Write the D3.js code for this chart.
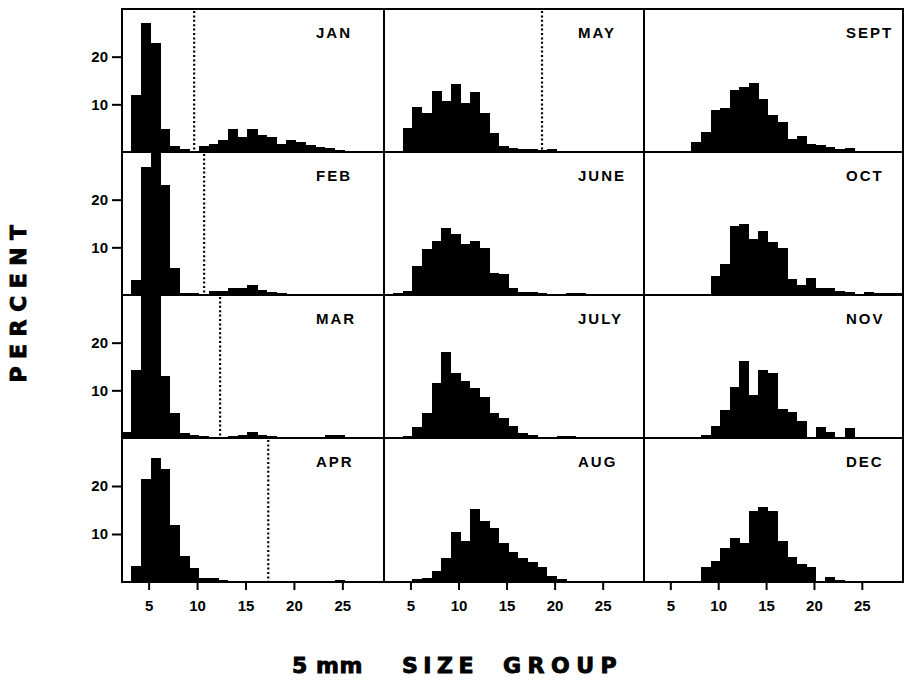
<!DOCTYPE html>
<html><head><meta charset="utf-8">
<script src="https://cdn.jsdelivr.net/npm/d3@7"></script>
<style>body{margin:0;background:#fff} svg{display:block}</style>
</head><body><svg id="c" width="904" height="681"></svg>
<script>
// ---- data ----
const months = ["JAN","FEB","MAR","APR","MAY","JUNE","JULY","AUG","SEPT","OCT","NOV","DEC"];
const binStarts = [3, 3, 2, 3, 4, 3, 4, 5, 6, 9, 8, 8];
const janPct = [12, 27.1, 22.9, 4.75, 1.3, 0.6, 0.3, 1.2, 1.6, 2.6, 4.75, 3.2, 4.75, 3.6, 3.1, 1.7, 2.5, 2.0, 1.4, 1.1, 0.8, 0.4, 0.2];
const febPct = [3.1, 26.9, 32, 23, 5.6, 0.5, 0.4, 0.3, 0.8, 0.9, 1.5, 1.5, 2.2, 1.0, 0.6, 0.4, 0.2];
const marPct = [1.3, 14.3, 33, 33, 13, 5.2, 1.1, 0.6, 0.4, 0.3, 0.3, 0.5, 0.6, 1.2, 0.6, 0.4, 0.3, 0.3, 0.3, 0.3, 0.3, 0.6, 0.6, 0.3];
const aprPct = [3.4, 21.5, 25.9, 23.6, 11.8, 5.5, 3.0, 0.9, 0.8, 0.4, 0.3, 0.3, 0.2, 0.2, 0.2, 0.2, 0.2, 0.2, 0.2, 0.2, 0.3, 0.4, 0.2];
const mayPct = [5.1, 9.5, 8.2, 12.8, 10.7, 14.2, 10.2, 12.6, 8.1, 3.9, 1.3, 0.9, 0.7, 0.6, 0.5, 0.6, 0.3, 0.3, 0.3, 0.3, 0.3, 0.3, 0.3];
const junPct = [0.5, 0.9, 6.1, 9.6, 11.4, 14.1, 12.7, 10.7, 11.4, 9.8, 4.7, 4.5, 1.5, 0.7, 0.6, 0.4, 0.3, 0.1, 0.4, 0.4];
const julPct = [0.4, 2.4, 5.2, 11.6, 18.1, 13.6, 11.9, 10.5, 8.5, 5.2, 4.3, 2.5, 1.0, 0.7, 0.3, 0.1, 0.5, 0.4];
const augPct = [0.6, 0.9, 2.2, 5.0, 10.5, 8.5, 15.2, 12.8, 11.3, 8.1, 6.3, 5.1, 4.2, 3.1, 1.3, 0.6, 0.3, 0.1, 0.1, 0.1, 0.1, 0.1, 0.1];
const sepPct = [0.3, 2.2, 4.3, 8.8, 9.3, 13.1, 13.6, 14.5, 11.1, 7.8, 6.2, 2.7, 3.4, 1.6, 1.5, 1.1, 0.7, 0.9, 0.3];
const octPct = [4.0, 6.6, 14.5, 14.8, 11.7, 13.4, 11.2, 9.8, 3.3, 2.2, 3.5, 1.4, 1.4, 0.9, 0.7, 0.3, 0.7, 0.4, 0.4, 0.4];
const novPct = [0.6, 2.5, 5.9, 10.6, 16.1, 9.0, 14.3, 13.6, 6.1, 5.5, 3.5, 0, 2.3, 1.3, 0, 2.0];
const decPct = [3.2, 4.3, 7.0, 9.2, 8.1, 14.8, 15.6, 14.8, 8.5, 5.3, 3.7, 3.1, 0, 1.1, 0.5];
const cohortCut = [9.7, 10.73, 12.38, 17.35, 18.69, null, null, null, null, null, null, null];
const xTicks = [5, 10, 15, 20, 25];
const yTicks = [10, 20];
const xLabelText = ["5 mm", "SIZE", "GROUP"];
const yLabelText = "PERCENT";

const series = [janPct, febPct, marPct, aprPct, mayPct, junPct, julPct, augPct, sepPct, octPct, novPct, decPct];

// ---- layout ----
const colX = [122, 384, 644, 903];
const rowY = [9, 152, 295, 438, 582];
const xDomain = [2.25, 29.3];
const binOffset = 0.2;
const labelInset = [194, 194, 202];
const FONT = "'Liberation Sans', Arial, Helvetica, sans-serif";
const HEAVY = "'DejaVu Sans', 'Liberation Sans', sans-serif";

const svg = d3.select("#c");

months.forEach((m, i) => {
  const col = Math.floor(i / 4), row = i % 4;
  const x = d3.scaleLinear().domain(xDomain).range([colX[col], colX[col + 1]]);
  const y = d3.scaleLinear().domain([0, 30]).range([rowY[row + 1], rowY[row]]).clamp(true);
  const g = svg.append("g");
  const bins = series[i].map((v, j) => ({ lo: binStarts[i] + j, v }));

  g.selectAll("rect.bar").data(bins).join("rect")
    .attr("class", "bar")
    .attr("x", d => Math.max(colX[col], x(d.lo + binOffset)))
    .attr("width", d => x(d.lo + 1 + binOffset) - Math.max(colX[col], x(d.lo + binOffset)) + 0.4)
    .attr("y", d => y(d.v))
    .attr("height", d => y(0) - y(d.v))
    .attr("fill", "#000")
    .attr("shape-rendering", "crispEdges");

  if (cohortCut[i] != null) {
    g.append("line")
      .attr("x1", x(cohortCut[i])).attr("x2", x(cohortCut[i]))
      .attr("y1", y(30) + 2).attr("y2", y(0))
      .attr("stroke", "#000").attr("stroke-width", 2.2)
      .attr("stroke-dasharray", "2,2.4");
  }

  g.append("rect")
    .attr("x", colX[col]).attr("y", rowY[row])
    .attr("width", colX[col + 1] - colX[col]).attr("height", rowY[row + 1] - rowY[row])
    .attr("fill", "none").attr("stroke", "#000").attr("stroke-width", 2);

  g.append("text")
    .attr("x", colX[col] + labelInset[col]).attr("y", rowY[row] + 28.5)
    .attr("font-family", FONT).attr("font-weight", "bold")
    .attr("font-size", 15).attr("letter-spacing", 2)
    .attr("fill", "#000").text(m);

  if (col === 0) {
    const ax = g.append("g").attr("transform", `translate(${colX[0]},0)`)
      .call(d3.axisLeft(y).tickValues(yTicks).tickSize(10).tickPadding(4));
    ax.select(".domain").remove();
    ax.selectAll("line").attr("stroke-width", 2);
    ax.selectAll("text").attr("font-family", FONT).attr("font-weight", "bold").attr("font-size", 15);
  }
  if (row === 3) {
    const ax = g.append("g").attr("transform", `translate(0,${rowY[4]})`)
      .call(d3.axisBottom(x).tickValues(xTicks).tickSize(8).tickPadding(10));
    ax.select(".domain").remove();
    ax.selectAll("line").attr("stroke-width", 2);
    ax.selectAll("text").attr("font-family", FONT).attr("font-weight", "bold").attr("font-size", 15);
  }
});

// axis titles
svg.append("text")
  .attr("transform", "translate(26,300) rotate(-90)")
  .attr("text-anchor", "middle")
  .attr("font-family", HEAVY).attr("font-weight", "bold")
  .attr("font-size", 22).attr("letter-spacing", 7.5)
  .attr("stroke", "#000").attr("stroke-width", 0.9)
  .text(yLabelText);

const xt = svg.append("text")
  .attr("y", 673)
  .attr("font-family", HEAVY).attr("font-weight", "bold")
  .attr("font-size", 22).attr("stroke", "#000").attr("stroke-width", 0.9);
const tx = [292, 402, 503];
const ls = [0.5, 5.5, 6.5];
xLabelText.forEach((t, k) => {
  xt.append("tspan").attr("x", tx[k]).attr("letter-spacing", ls[k]).text(t);
});
</script></body></html>
